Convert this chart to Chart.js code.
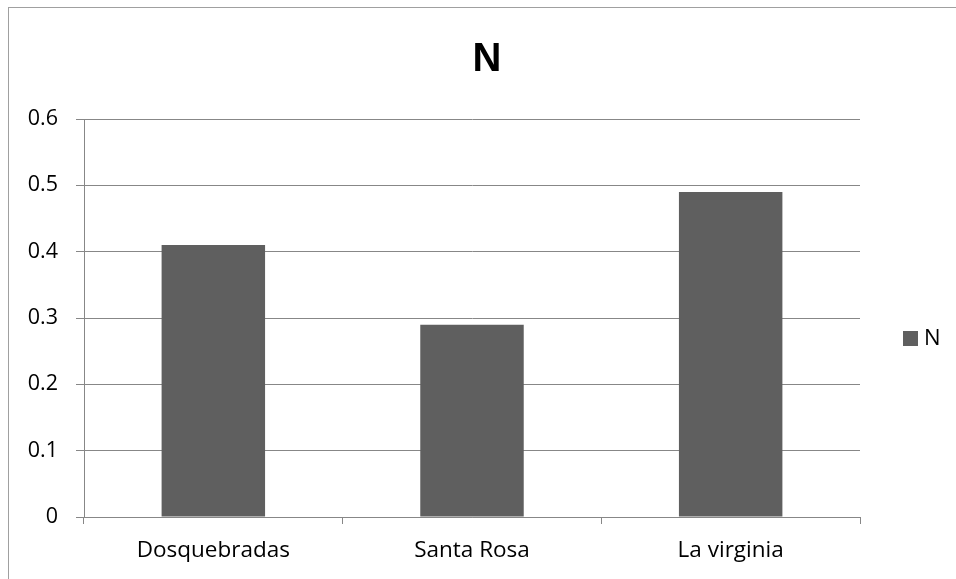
<!DOCTYPE html>
<html>
<head>
<meta charset="utf-8">
<script src="https://cdn.jsdelivr.net/npm/chart.js@4.4.1/dist/chart.umd.min.js"></script>
<style>
  html, body { margin: 0; padding: 0; background: #ffffff; }
  #wrap { position: relative; width: 956px; height: 579px; overflow: hidden; }
  #frame { position: absolute; left: 8px; top: 7px; width: 1000px; height: 700px;
           border-left: 1px solid #a0a0a0; border-top: 1px solid #a0a0a0; pointer-events: none; }
  canvas { position: absolute; left: 0; top: 0; }
</style>
</head>
<body>
<div id="wrap">
  <canvas id="chart" width="956" height="579"></canvas>
  <div id="frame"></div>
</div>
<script>
// Category names, series values and axis ticks
const categories = ['Dosquebradas', 'Santa Rosa', 'La virginia'];
const seriesName = 'N';
const seriesValues = [0.41, 0.29, 0.49];
const yTicks = [0, 0.1, 0.2, 0.3, 0.4, 0.5, 0.6];

const BAR_COLOR = '#5f5f5f';
const GRID_COLOR = '#878787';
const FONT = "'Open Sans', 'Noto Sans', sans-serif";

// Title centred on the whole frame, legend swatch and name at the right of the plot
const frameText = {
  id: 'frameText',
  afterDraw(chart) {
    const ctx = chart.ctx;
    const ds = chart.data.datasets[0];
    const a = chart.chartArea;
    ctx.save();
    ctx.fillStyle = '#000000';
    ctx.font = "bold 40px 'Liberation Sans', Arial, sans-serif";
    ctx.textAlign = 'center';
    ctx.textBaseline = 'middle';
    ctx.fillText(seriesName, 487, 60);

    const cy = (a.top + a.bottom) / 2 + 20;
    ctx.fillStyle = ds.backgroundColor;
    ctx.fillRect(903, cy - 7, 15, 15);
    ctx.fillStyle = '#000000';
    ctx.font = '22px ' + FONT;
    ctx.textAlign = 'left';
    ctx.fillText(ds.label, 924, cy + 1);
    ctx.restore();
  }
};

new Chart(document.getElementById('chart'), {
  type: 'bar',
  data: {
    labels: categories,
    datasets: [{
      label: seriesName,
      data: seriesValues,
      backgroundColor: BAR_COLOR,
      borderWidth: 0,
      categoryPercentage: 1.0,
      barPercentage: 0.4
    }]
  },
  options: {
    responsive: false,
    animation: false,
    layout: { padding: { left: 0, right: 96, top: 119, bottom: 0 } },
    plugins: {
      legend: { display: false },
      tooltip: { enabled: false },
      title: { display: false }
    },
    scales: {
      x: {
        offset: true,
        grid: {
          offset: true,
          drawOnChartArea: false,
          drawTicks: true,
          tickLength: 7,
          color: GRID_COLOR
        },
        border: { display: true, color: GRID_COLOR, width: 1 },
        ticks: {
          color: '#000000',
          font: { family: FONT, size: 22.5 },
          padding: 13,
          maxRotation: 0
        },
        afterFit(scale) { scale.height = 62; }
      },
      y: {
        min: 0,
        max: 0.6,
        afterBuildTicks(scale) { scale.ticks = yTicks.map(v => ({ value: v })); },
        grid: {
          drawTicks: true,
          tickLength: 8,
          color: GRID_COLOR
        },
        border: { display: true, color: GRID_COLOR, width: 1 },
        ticks: {
          color: '#000000',
          font: { family: FONT, size: 21.5 },
          padding: 18,
          callback: v => (v === 0 ? '0' : v.toFixed(1))
        },
        afterFit(scale) { scale.width = 84; }
      }
    }
  },
  plugins: [frameText]
});
</script>
</body>
</html>
